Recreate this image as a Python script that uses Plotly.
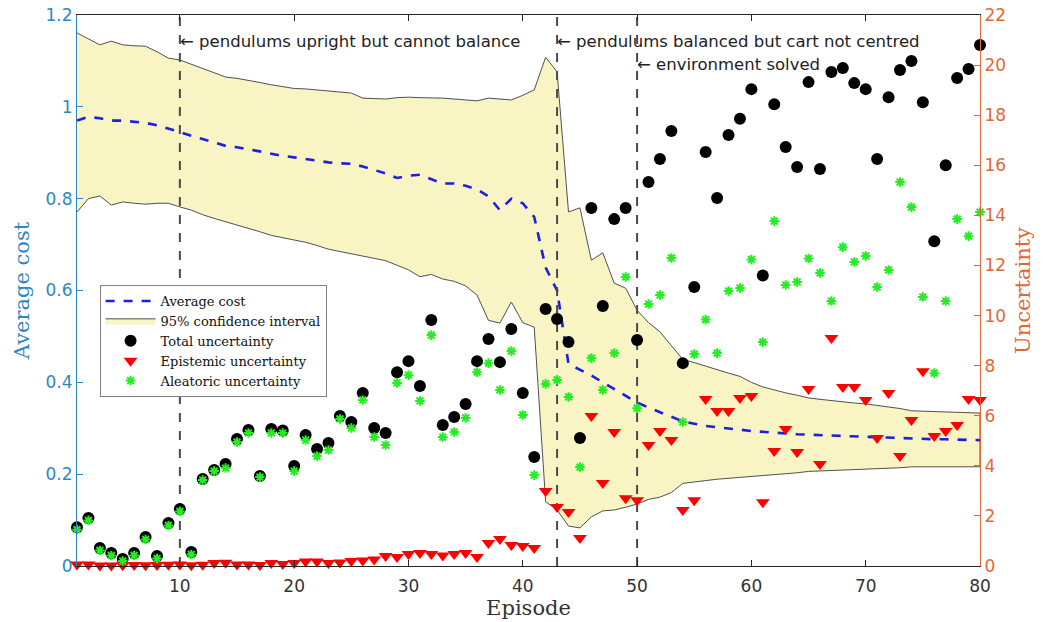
import plotly.graph_objects as go

episodes = list(range(1, 81))

avg_cost = [0.970, 0.978, 0.975, 0.970, 0.970, 0.968, 0.965, 0.960, 0.953, 0.945,
            0.937, 0.930, 0.922, 0.915, 0.912, 0.908, 0.903, 0.898, 0.893, 0.890,
            0.886, 0.882, 0.879, 0.877, 0.876, 0.870, 0.862, 0.855, 0.845, 0.850,
            0.852, 0.843, 0.833, 0.833, 0.828, 0.820, 0.805, 0.775, 0.800, 0.790,
            0.760, 0.650, 0.600, 0.440, 0.428, 0.415, 0.400, 0.385, 0.370, 0.356,
            0.345, 0.335, 0.325, 0.315, 0.310, 0.305, 0.302, 0.300, 0.297, 0.294,
            0.292, 0.290, 0.288, 0.287, 0.286, 0.285, 0.284, 0.283, 0.282, 0.281,
            0.280, 0.279, 0.278, 0.278, 0.277, 0.276, 0.276, 0.275, 0.275, 0.274]

ci_upper = [1.161, 1.148, 1.135, 1.143, 1.135, 1.133, 1.132, 1.120, 1.106, 1.102,
            1.093, 1.084, 1.075, 1.065, 1.062, 1.058, 1.053, 1.048, 1.044, 1.040,
            1.039, 1.037, 1.035, 1.033, 1.030, 1.019, 1.018, 1.017, 1.020, 1.021,
            1.020, 1.020, 1.019, 1.017, 1.015, 1.013, 1.019, 1.017, 1.015, 1.025,
            1.037, 1.108, 1.076, 0.771, 0.780, 0.666, 0.682, 0.616, 0.605, 0.557,
            0.530, 0.510, 0.480, 0.450, 0.443, 0.435, 0.428, 0.420, 0.413, 0.400,
            0.390, 0.383, 0.377, 0.372, 0.366, 0.363, 0.360, 0.357, 0.355, 0.353,
            0.350, 0.347, 0.343, 0.338, 0.337, 0.336, 0.335, 0.334, 0.333, 0.333]

ci_lower = [0.771, 0.800, 0.806, 0.786, 0.793, 0.790, 0.788, 0.790, 0.790, 0.782,
            0.775, 0.765, 0.757, 0.750, 0.742, 0.735, 0.728, 0.720, 0.715, 0.710,
            0.705, 0.698, 0.690, 0.685, 0.680, 0.675, 0.670, 0.665, 0.655, 0.645,
            0.630, 0.635, 0.625, 0.620, 0.610, 0.590, 0.535, 0.529, 0.575, 0.530,
            0.520, 0.140, 0.122, 0.087, 0.083, 0.107, 0.120, 0.122, 0.128, 0.135,
            0.145, 0.150, 0.160, 0.180, 0.183, 0.186, 0.189, 0.191, 0.193, 0.196,
            0.198, 0.200, 0.201, 0.203, 0.206, 0.207, 0.208, 0.209, 0.210, 0.211,
            0.212, 0.213, 0.214, 0.216, 0.216, 0.216, 0.216, 0.216, 0.216, 0.216]

total_unc = [1.55, 1.92, 0.72, 0.52, 0.28, 0.52, 1.16, 0.40, 1.72, 2.28,
             0.56, 3.47, 3.83, 4.07, 5.07, 5.43, 3.59, 5.47, 5.41, 3.99,
             5.23, 4.67, 4.91, 5.99, 5.75, 6.91, 5.51, 5.31, 7.74, 8.18,
             7.19, 9.82, 5.63, 5.95, 6.47, 8.18, 9.06, 8.14, 9.46, 6.91,
             4.35, 10.26, 9.86, 8.94, 5.11, 14.29, 10.38, 13.85, 14.29, 9.02,
             15.33, 16.25, 17.37, 8.10, 11.14, 16.53, 14.69, 17.21, 17.86, 19.04,
             11.60, 18.44, 16.73, 15.93, 19.32, 15.85, 19.72, 19.88, 19.28, 19.04,
             16.25, 18.72, 19.80, 20.16, 18.52, 12.97, 16.00, 19.48, 19.84, 20.80]

epistemic_unc = [0.06, 0.06, 0.02, 0.02, 0.03, 0.04, 0.03, 0.04, 0.05, 0.06,
                 0.03, 0.05, 0.12, 0.13, 0.06, 0.06, 0.04, 0.12, 0.08, 0.12,
                 0.18, 0.18, 0.12, 0.14, 0.20, 0.22, 0.26, 0.40, 0.36, 0.48,
                 0.52, 0.48, 0.42, 0.48, 0.52, 0.36, 0.92, 1.08, 0.84, 0.80,
                 0.72, 2.99, 2.36, 2.16, 1.12, 5.99, 3.31, 5.35, 2.71, 2.63,
                 4.83, 5.39, 5.03, 2.24, 2.63, 6.67, 6.19, 6.19, 6.71, 6.79,
                 2.55, 4.59, 5.47, 4.55, 7.07, 4.07, 9.10, 7.15, 7.15, 6.63,
                 5.11, 6.91, 4.39, 5.83, 7.78, 5.19, 5.39, 5.63, 6.67, 6.63]

aleatoric_unc = [1.45, 1.82, 0.62, 0.42, 0.20, 0.42, 1.06, 0.30, 1.62, 2.18,
                 0.46, 3.43, 3.79, 3.91, 4.95, 5.31, 3.55, 5.31, 5.31, 3.79,
                 5.03, 4.39, 4.63, 5.87, 5.51, 6.63, 5.15, 4.83, 7.31, 7.62,
                 6.59, 9.22, 5.15, 5.35, 5.91, 7.74, 8.10, 7.03, 8.58, 6.03,
                 3.63, 7.27, 7.43, 6.75, 3.95, 8.30, 7.03, 8.50, 11.54, 6.30,
                 10.46, 10.82, 12.30, 5.75, 8.46, 9.84, 8.50, 10.98, 11.10, 12.24,
                 8.94, 13.77, 11.22, 11.34, 12.28, 11.70, 10.58, 12.73, 12.14, 12.38,
                 11.14, 11.82, 15.33, 14.33, 10.74, 7.70, 10.58, 13.85, 13.17, 14.13]

phase_episodes = [10, 43, 50]
phase_labels = ["\u2190 pendulums upright but cannot balance",
                "\u2190 pendulums balanced but cart not centred",
                "\u2190 environment solved"]
phase_label_y = [0.951, 0.951, 0.911]

x_ticks = [10, 20, 30, 40, 50, 60, 70, 80]

LEFT_C = "#2F86C5"
RIGHT_C = "#DF6838"
SERIF = "DejaVu Serif, serif"
SANS = "DejaVu Sans, sans-serif"

fig = go.Figure()

# confidence band
fig.add_trace(go.Scatter(
    x=episodes + episodes[::-1],
    y=ci_upper + ci_lower[::-1],
    fill="toself", fillcolor="#F8F4C4",
    line=dict(color="#505050", width=1),
    mode="lines", name="95% confidence interval",
    legendrank=2, hoverinfo="skip"))

# average cost
fig.add_trace(go.Scatter(
    x=episodes, y=avg_cost, mode="lines",
    line=dict(color="#1E1EDC", width=2.6, dash="dash"),
    name="Average cost", legendrank=1))

# phase lines
vx, vy = [], []
for e in phase_episodes:
    vx += [e, e, None]
    vy += [0, 1.2, None]
fig.add_trace(go.Scatter(
    x=vx, y=vy, mode="lines",
    line=dict(color="#4A4A4A", width=2, dash="dash"),
    showlegend=False, hoverinfo="skip"))

fig.add_trace(go.Scatter(
    x=episodes, y=total_unc, yaxis="y2", mode="markers",
    marker=dict(symbol="circle", size=12, color="black"),
    name="Total uncertainty", legendrank=3, cliponaxis=False))

fig.add_trace(go.Scatter(
    x=episodes, y=epistemic_unc, yaxis="y2", mode="markers",
    marker=dict(symbol="triangle-down", size=12, color="#FF0000"),
    name="Epistemic uncertainty", legendrank=4, cliponaxis=False))

fig.add_trace(go.Scatter(
    x=episodes, y=aleatoric_unc, yaxis="y2", mode="markers",
    marker=dict(symbol="asterisk-open", size=8, color="#22EE22",
                line=dict(color="#22EE22", width=2)),
    name="Aleatoric uncertainty", legendrank=5, cliponaxis=False))

annotations = []
for e, t, yy in zip(phase_episodes, phase_labels, phase_label_y):
    annotations.append(dict(x=e, y=yy, xref="x", yref="paper", text=t,
                            showarrow=False, xanchor="left", yanchor="middle",
                            xshift=-2,
                            font=dict(family=SANS, size=16.5, color="#222222")))

fig.update_layout(
    width=1046, height=622,
    margin=dict(l=77, r=66, t=15, b=56),
    paper_bgcolor="white", plot_bgcolor="white",
    showlegend=True,
    legend=dict(x=0.025, y=0.51, xanchor="left", yanchor="top",
                bgcolor="white", bordercolor="#808080", borderwidth=1,
                font=dict(family=SERIF, size=13, color="#111111"),
                itemwidth=50, tracegroupgap=0),
    annotations=annotations,
    xaxis=dict(range=[1, 80], tickvals=x_ticks, ticks="inside", ticklen=6,
               automargin=False,
               showgrid=False, zeroline=False, showline=True, linecolor="#262626",
               linewidth=1, mirror="ticks", tickcolor="#262626",
               ticklabelstandoff=5,
               tickfont=dict(family=SANS, size=17, color="#333333"),
               title=dict(text="Episode", standoff=4,
                          font=dict(family=SERIF, size=21, color="#333333"))),
    yaxis=dict(range=[0, 1.2], dtick=0.2, ticks="inside", ticklen=6,
               automargin=False,
               showgrid=False, zeroline=False, showline=True, linecolor=LEFT_C,
               linewidth=1, tickcolor=LEFT_C,
               tickfont=dict(family=SANS, size=17, color=LEFT_C),
               title=dict(text="Average cost", standoff=10,
                          font=dict(family=SERIF, size=21, color=LEFT_C))),
    yaxis2=dict(range=[0, 22], dtick=2, overlaying="y", side="right",
                automargin=False,
                ticks="inside", ticklen=6, showgrid=False, zeroline=False,
                showline=True, linecolor=RIGHT_C, linewidth=1, tickcolor=RIGHT_C,
                tickfont=dict(family=SANS, size=17, color=RIGHT_C),
                title=dict(text="Uncertainty", standoff=10,
                           font=dict(family=SERIF, size=21, color=RIGHT_C))),
)

fig.write_html("out.html")
